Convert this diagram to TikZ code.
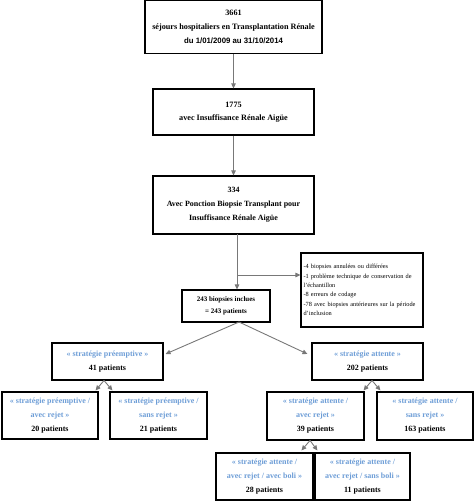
\documentclass[tikz,border=0pt]{standalone}
\usepackage{fontspec}
\setmainfont{Liberation Serif}
\newfontfamily\sansb{Liberation Sans}
\usetikzlibrary{arrows.meta,calc}
\definecolor{lineg}{RGB}{120,120,120}
\definecolor{blu}{RGB}{110,158,215}
\tikzset{
  box/.style={draw=black, line width=1.1pt, inner sep=0pt, align=center, fill=white,
    font=\bfseries\fontsize{8}{14}\selectfont},
  conn/.style={draw=lineg, line width=0.9pt, -{Triangle[length=5pt,width=4.5pt]}},
  plain/.style={draw=lineg, line width=0.9pt},
  bl/.style={text=blu}
}
\newcommand{\bx}[1]{\textcolor{blu}{#1}}
\begin{document}
\begin{tikzpicture}[x=1pt,y=-1pt]
\useasboundingbox (0,0) rectangle (474,502);
% row boxes
\node[box, minimum width=177pt, minimum height=53pt, font=\bfseries\fontsize{8.2}{14}\selectfont] (b1) at (233.5,27) {3661\\s\'ejours hospitaliers en Transplantation R\'enale\\{\sansb\bfseries\fontsize{7.8}{14}\selectfont du 1/01/2009 au 31/10/2014}};
\node[box, minimum width=161pt, minimum height=46pt, font=\bfseries\fontsize{8.2}{13}\selectfont] (b2) at (233.5,112) {1775\\avec Insuffisance R\'enale Aig\"ue};
\node[box, minimum width=122pt, minimum height=74pt, align=left, text width=117pt, font=\fontsize{6.3}{9.3}\selectfont] (ex) at (362,290) {\hyphenpenalty=10000 -4 biopsies annul\'ees ou diff\'er\'ees\\-1 probl\`eme technique de conservation de\\l’\'echantillon\\-8 erreurs de codage\\-78 avec biopsies ant\'erieures sur la p\'eriode\\d’inclusion};
\node[box, minimum width=161pt, minimum height=58pt] (b3) at (233.5,205) {334\\Avec Ponction Biopsie Transplant pour\\Insuffisance R\'enale Aig\"ue};
\node[box, minimum width=88pt, minimum height=32pt, font=\bfseries\fontsize{7}{12}\selectfont] (b4) at (226,306) {243 biopsies inclues\\= 243 patients};
\node[box, minimum width=111pt, minimum height=37pt] (b5l) at (107.5,361.5) {\bx{« strat\'egie pr\'eemptive »}\\41 patients};
\node[box, minimum width=111pt, minimum height=37pt] (b5r) at (367.5,361.5) {\bx{« strat\'egie attente »}\\202 patients};
\node[box, minimum width=96pt, minimum height=47pt] (b6a) at (50,415.5) {\bx{« strat\'egie pr\'eemptive /}\\\bx{avec rejet »}\\20 patients};
\node[box, minimum width=97pt, minimum height=47pt] (b6b) at (158.5,415.5) {\bx{« strat\'egie pr\'eemptive /}\\\bx{sans rejet »}\\21 patients};
\node[box, minimum width=97pt, minimum height=48pt] (b6c) at (315.5,416) {\bx{« strat\'egie attente /}\\\bx{avec rejet »}\\39 patients};
\node[box, minimum width=96pt, minimum height=48pt] (b6d) at (425,416) {\bx{« strat\'egie attente /}\\\bx{sans rejet »}\\163 patients};
\node[box, minimum width=97pt, minimum height=47pt] (b7a) at (264.5,476.5) {\bx{« strat\'egie attente /}\\\bx{avec rejet / avec boli »}\\28 patients};
\node[box, minimum width=95pt, minimum height=47pt] (b7b) at (362.5,476.5) {\bx{« strat\'egie attente /}\\\bx{avec rejet / sans boli »}\\11 patients};
% coordinates
\coordinate (t3) at (237,234);
\coordinate (j) at (237,275);
\coordinate (s4) at (239,322);
\coordinate (a5l) at (104,380.5);
\coordinate (a5r) at (372,380.5);
\coordinate (a6c) at (310,440.5);
% connectors
\draw[conn] (b1.south) -- (b2.north);
\draw[conn] (b2.south) -- (b3.north);
\draw[plain] (t3) -- (j);
\draw[conn] (j) -- (j |- b4.north);
\draw[conn] (j) -- (ex.west |- j);
\draw[conn] (s4) -- ($(b5l.east)+(2,-7.5)$);
\draw[conn] (s4) -- ($(b5r.west)+(-4,-7.5)$);
\draw[conn] (a5l) -- ($(b6a.north east)+(-3,-1)$);
\draw[conn] (a5l) -- ($(b6b.north west)+(3,-1)$);
\draw[conn] (a5r) -- ($(b6c.north east)+(-1,-1)$);
\draw[conn] (a5r) -- ($(b6d.north west)+(4,-1)$);
\draw[conn] (a6c) -- ($(b7a.north west)+(86,-2)$);
\draw[conn] (a6c) -- ($(b7b.north west)+(3,-2)$);
\end{tikzpicture}
\end{document}
